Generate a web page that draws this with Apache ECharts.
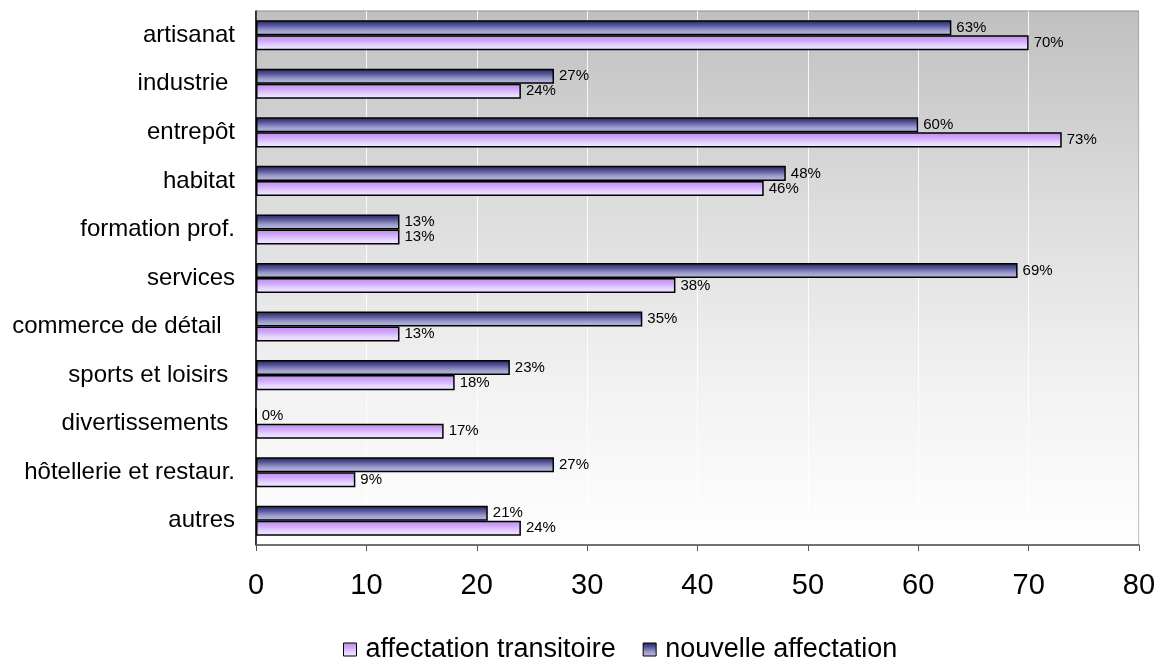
<!DOCTYPE html>
<html>
<head>
<meta charset="utf-8">
<script src="https://cdn.jsdelivr.net/npm/echarts@6/dist/echarts.min.js"></script>
<style>
  html, body { margin: 0; padding: 0; background: #ffffff; }
  #chart { width: 1163px; height: 666px; }
</style>
</head>
<body>
<div id="chart"></div>
<script>
// Categories, top to bottom (some labels carry trailing spaces)
const categories = [
  'artisanat', 'industrie ', 'entrepôt', 'habitat', 'formation prof.',
  'services', 'commerce de détail  ', 'sports et loisirs ', 'divertissements ',
  'hôtellerie et restaur.', 'autres'
];
// Share of answers (%) per category
const nouvelleAffectation = [63, 27, 60, 48, 13, 69, 35, 23, 0, 27, 21];
const affectationTransitoire = [70, 24, 73, 46, 13, 38, 13, 18, 17, 9, 24];
const seriesNames = ['affectation transitoire', 'nouvelle affectation'];
const xTicks = { min: 0, max: 80, interval: 10 };

const FONT = 'Liberation Sans, Arial, sans-serif';

function vGrad(stops) {
  return {
    type: 'linear', x: 0, y: 0, x2: 0, y2: 1,
    colorStops: stops.map((c, i) => ({ offset: i / (stops.length - 1), color: c }))
  };
}

const darkFill = vGrad(['#1e1e64', '#56569a', '#9c9cc8', '#c0c0de']);
const lightFill = vGrad(['#bc88f4', '#cea6f9', '#e4d2fd', '#f4eeff']);

const valueLabel = {
  show: true,
  position: 'right',
  distance: 5,
  formatter: '{c}%',
  fontFamily: FONT,
  fontSize: 15,
  color: '#000'
};

const chart = echarts.init(document.getElementById('chart'), null, { renderer: 'canvas' });
chart.setOption({
  animation: false,
  backgroundColor: '#ffffff',
  textStyle: { fontFamily: FONT },
  grid: {
    left: 256, right: 24, top: 11, bottom: 121,
    show: true,
    borderColor: '#8c8c8c',
    borderWidth: 1,
    backgroundColor: vGrad(['#c0c0c0', '#dadada', '#f0f0f0', '#ffffff'])
  },
  legend: {
    data: seriesNames,
    left: 338,
    top: 631,
    icon: 'rect',
    itemWidth: 13,
    itemHeight: 13,
    itemGap: 27,
    textStyle: { fontFamily: FONT, fontSize: 27, color: '#000', padding: [0, 0, 0, 4] },
    itemStyle: { borderColor: '#000', borderWidth: 1 }
  },
  xAxis: {
    type: 'value',
    min: xTicks.min, max: xTicks.max, interval: xTicks.interval,
    axisLine: { show: true, lineStyle: { color: '#555', width: 1.5 } },
    axisTick: { show: true, length: 6, lineStyle: { color: '#555' } },
    axisLabel: { fontFamily: FONT, fontSize: 29, color: '#000', margin: 26 },
    splitLine: { show: true, lineStyle: { color: '#ffffff', width: 1, opacity: 0.85 } }
  },
  yAxis: {
    type: 'category',
    data: categories,
    inverse: true,
    axisLine: { show: true, lineStyle: { color: '#000', width: 1.5 } },
    axisTick: { show: false },
    axisLabel: { fontFamily: FONT, fontSize: 24, color: '#000', margin: 21 },
    splitLine: { show: false }
  },
  series: [
    {
      name: seriesNames[1],
      type: 'bar',
      data: nouvelleAffectation,
      barGap: '0%',
      barCategoryGap: '38%',
      itemStyle: { color: darkFill, borderColor: '#000', borderWidth: 1.5 },
      label: valueLabel
    },
    {
      name: seriesNames[0],
      type: 'bar',
      data: affectationTransitoire,
      barGap: '0%',
      barCategoryGap: '38%',
      itemStyle: { color: lightFill, borderColor: '#000', borderWidth: 1.5 },
      label: valueLabel
    }
  ]
});
</script>
</body>
</html>
